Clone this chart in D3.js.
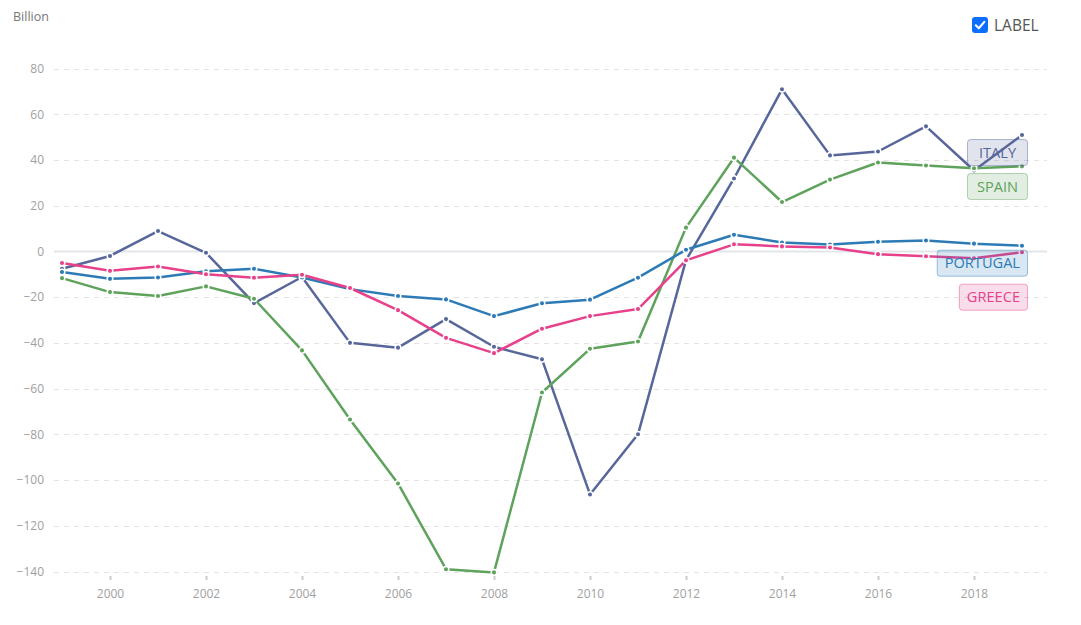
<!DOCTYPE html>
<html>
<head>
<meta charset="utf-8">
<script src="https://cdn.jsdelivr.net/npm/d3@7"></script>
<style>
  html, body { margin: 0; padding: 0; background: #fff; }
  svg { display: block; font-family: "Open Sans", "Noto Sans", sans-serif; }
</style>
</head>
<body>
<svg id="chart" width="1081" height="625"></svg>
<script>
const years = [1999,2000,2001,2002,2003,2004,2005,2006,2007,2008,2009,2010,2011,2012,2013,2014,2015,2016,2017,2018,2019];
const italy    = [-7.6,-2,8.9,-0.6,-22.6,-11.2,-40,-42.1,-29.6,-41.7,-47.2,-106.3,-80,-3.8,31.9,70.9,42,43.7,54.7,35.4,50.9];
const spain    = [-11.7,-17.8,-19.5,-15.3,-20.7,-43.3,-73.5,-101.5,-139,-140.4,-61.7,-42.6,-39.4,10.4,41,21.6,31.4,38.9,37.6,36.4,37.2];
const portugal = [-9,-12,-11.4,-8.7,-7.6,-11.4,-16.5,-19.5,-21,-28.3,-22.7,-21.1,-11.5,0.7,7.3,3.9,3,4.2,4.8,3.4,2.5];
const greece   = [-5.1,-8.5,-6.6,-10,-11.5,-10.2,-16,-25.7,-37.8,-44.5,-33.8,-28.3,-25.2,-3.9,3.1,2.2,1.7,-1.2,-2.1,-3,-0.4];
const seriesNames = ["ITALY","SPAIN","PORTUGAL","GREECE"];
const seriesColors = ["#58679b","#5ea25c","#2c7bb6","#e6418a"];
const yTicks = [-140,-120,-100,-80,-60,-40,-20,0,20,40,60,80];
const xTicks = [2000,2002,2004,2006,2008,2010,2012,2014,2016,2018];
const yUnit = "Billion";
const toggleLabel = "LABEL";

const seriesValues = [italy, spain, portugal, greece];
const svg = d3.select("#chart");

const x = d3.scaleLinear().domain([1999, 2019]).range([62, 1022]);
const y = d3.scaleLinear().domain([-140, 80]).range([571.5, 68.5]);
const gridX0 = 54, gridX1 = 1047;

// grid lines
const grid = svg.append("g");
grid.selectAll("line").data(yTicks.filter(d => d !== 0)).join("line")
  .attr("x1", gridX0).attr("x2", gridX1)
  .attr("y1", d => Math.round(y(d)) + 0.5).attr("y2", d => Math.round(y(d)) + 0.5)
  .attr("stroke", "#e3e3e3").attr("stroke-width", 1)
  .attr("stroke-dasharray", "5,5");
grid.append("line")
  .attr("x1", gridX0).attr("x2", gridX1)
  .attr("y1", y(0)).attr("y2", y(0))
  .attr("stroke", "#e2e5ea").attr("stroke-width", 2);

// y axis (labels only)
const yAxis = d3.axisLeft(y).tickValues(yTicks).tickSize(0).tickPadding(0);
const yg = svg.append("g").attr("transform", "translate(44,0)").call(yAxis);
yg.select(".domain").remove();
yg.selectAll("text").attr("fill", "#a0a0a0").attr("font-size", 12)
  .attr("font-family", "\"Open Sans\", sans-serif");

// x axis
const xAxis = d3.axisBottom(x).tickValues(xTicks).tickFormat(d3.format("d")).tickSize(4).tickPadding(9);
const xg = svg.append("g").attr("transform", "translate(0,576)").call(xAxis);
xg.select(".domain").remove();
xg.selectAll(".tick line").attr("stroke", "#cccccc").attr("stroke-width", 2);
xg.selectAll("text").attr("fill", "#a0a0a0").attr("font-size", 12)
  .attr("font-family", "\"Open Sans\", sans-serif");

// unit label
svg.append("text").attr("x", 13).attr("y", 21).text(yUnit)
  .attr("font-size", 12.5).attr("fill", "#777");

// lines
const line = d3.line().x((d, i) => x(years[i])).y(d => y(d));
seriesValues.forEach((vals, si) => {
  const g = svg.append("g");
  g.append("path").datum(vals).attr("d", line)
    .attr("fill", "none").attr("stroke", seriesColors[si])
    .attr("stroke-width", 2.5).attr("stroke-linejoin", "round");
  g.selectAll("circle").data(vals).join("circle")
    .attr("cx", (d, i) => x(years[i])).attr("cy", d => y(d))
    .attr("r", 2.8).attr("fill", seriesColors[si])
    .attr("stroke", "#fff").attr("stroke-width", 1.5);
});

// end labels
const labelRight = 1028, padX = 8, boxH = 27, minW = 61;
let prevBottom = -Infinity;
const labG = svg.append("g");
seriesValues.forEach((vals, si) => {
  const last = vals[vals.length - 1];
  let top = Math.max(y(last) + 4, prevBottom + 7);
  const g = labG.append("g");
  const t = g.append("text").text(seriesNames[si])
    .attr("font-size", 14.6).attr("fill", seriesColors[si])
    .attr("text-anchor", "middle")
    .attr("y", top + boxH / 2 + 5);
  const w = Math.max(minW, t.node().getComputedTextLength() + 2 * padX);
  t.attr("x", labelRight - w / 2);
  g.insert("rect", "text")
    .attr("x", labelRight - w + 0.5).attr("y", top + 0.5)
    .attr("width", w - 1).attr("height", boxH - 1).attr("rx", 3)
    .attr("fill", seriesColors[si]).attr("fill-opacity", 0.18)
    .attr("stroke", seriesColors[si]).attr("stroke-opacity", 0.45);
  prevBottom = top + boxH;
});

// toggle checkbox
const cb = svg.append("g").attr("transform", "translate(972,17)");
cb.append("rect").attr("width", 16).attr("height", 16).attr("rx", 3).attr("fill", "#0d6efd");
cb.append("path").attr("d", "M3.8,8.3 L6.8,11.2 L12.3,4.9")
  .attr("fill", "none").attr("stroke", "#fff").attr("stroke-width", 2.2)
  .attr("stroke-linecap", "round").attr("stroke-linejoin", "round");
svg.append("text").attr("x", 994).attr("y", 30.5).text(toggleLabel)
  .attr("font-size", 15.5).attr("fill", "#555");
</script>
</body>
</html>
